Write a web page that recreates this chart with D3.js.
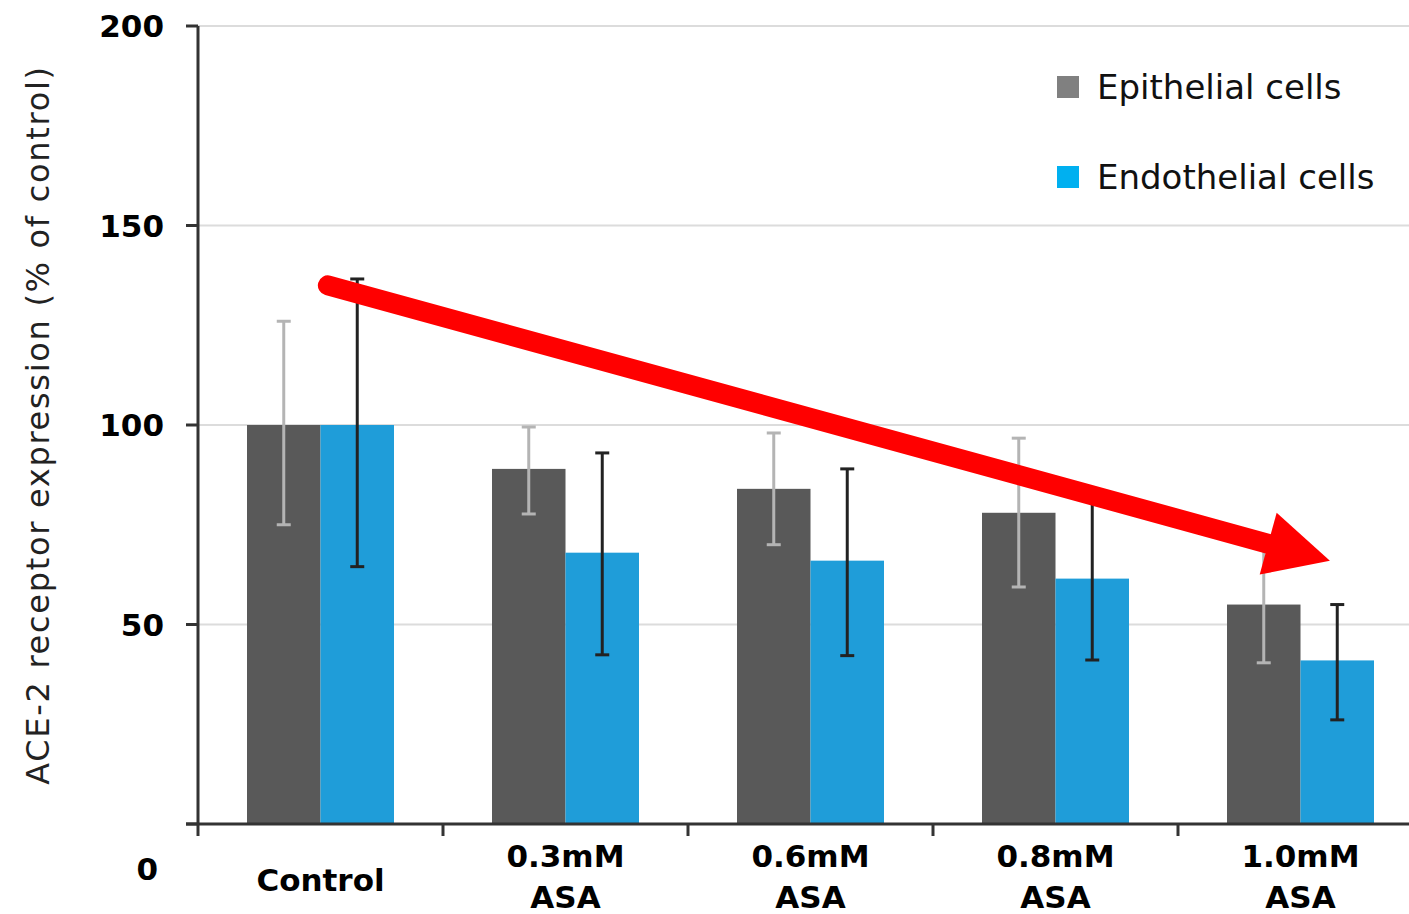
<!DOCTYPE html>
<html><head><meta charset="utf-8">
<script src="https://cdn.jsdelivr.net/npm/d3@7"></script>
<style>body{margin:0;background:#fff}svg{display:block}</style>
</head><body>
<script>
const categories = [["Control"], ["0.3mM","ASA"], ["0.6mM","ASA"], ["0.8mM","ASA"], ["1.0mM","ASA"]];
const seriesNames = ["Epithelial cells", "Endothelial cells"];
const epithelial = [100, 89, 84, 78, 55];
const endothelial = [100, 68, 66, 61.5, 41];
const epiErrHigh = [126, 99.5, 98, 96.7, 70];
const epiErrLow = [75, 77.7, 70, 59.4, 40.4];
const endoErrHigh = [136.6, 93, 89, 81.5, 55];
const endoErrLow = [64.5, 42.4, 42.2, 41.1, 26.1];
const yTicks = [50, 100, 150, 200];
const arrowFrom = [0.03, 135];   // [category position, value]
const arrowTo = [4.12, 66];

const W = 1409, H = 914;
const svg = d3.select("body").append("svg").attr("width", W).attr("height", H);
const F = "'DejaVu Sans', sans-serif";

const y = d3.scaleLinear().domain([0, 200]).range([824, 26]);
const catKeys = categories.map(c => c.join(" "));
const x0 = d3.scaleBand().domain(catKeys).range([198, 198 + 245 * 5]).paddingInner(0.4).paddingOuter(0.2);
const x1 = d3.scaleBand().domain(seriesNames).range([0, x0.bandwidth()]);
const colors = {"Epithelial cells": "#595959", "Endothelial cells": "#1f9dd9"};
const legendColors = {"Epithelial cells": "#808080", "Endothelial cells": "#00b0f0"};
const errColors = {"Epithelial cells": "#b4b4b4", "Endothelial cells": "#222"};

// grid
svg.append("g").selectAll("line").data(yTicks).join("line")
  .attr("x1", 198).attr("x2", W).attr("y1", d => y(d)).attr("y2", d => y(d))
  .attr("stroke", "#dcdcdc").attr("stroke-width", 2);

const data = seriesNames.map((s, si) => ({
  name: s,
  vals: si === 0 ? epithelial : endothelial,
  hi: si === 0 ? epiErrHigh : endoErrHigh,
  lo: si === 0 ? epiErrLow : endoErrLow
}));

// bars
data.forEach(s => {
  svg.append("g").selectAll("rect").data(s.vals).join("rect")
    .attr("x", (d, i) => x0(catKeys[i]) + x1(s.name))
    .attr("width", x1.bandwidth())
    .attr("y", d => y(d))
    .attr("height", d => y(0) - y(d))
    .attr("fill", colors[s.name]);
});

// axes
svg.append("line").attr("x1", 198).attr("x2", 198).attr("y1", y(200)).attr("y2", y(0)).attr("stroke", "#333").attr("stroke-width", 3);
svg.append("line").attr("x1", 186).attr("x2", W).attr("y1", y(0)).attr("y2", y(0)).attr("stroke", "#333").attr("stroke-width", 3);
svg.append("g").selectAll("line").data([0].concat(yTicks)).join("line")
  .attr("x1", 186).attr("x2", 198).attr("y1", d => y(d)).attr("y2", d => y(d))
  .attr("stroke", "#333").attr("stroke-width", 3);
svg.append("g").selectAll("line").data(d3.range(5)).join("line")
  .attr("x1", i => 198 + i * x0.step()).attr("x2", i => 198 + i * x0.step())
  .attr("y1", y(0)).attr("y2", y(0) + 12)
  .attr("stroke", "#333").attr("stroke-width", 3);

// y tick labels
svg.append("g").selectAll("text").data(yTicks).join("text")
  .attr("x", 164).attr("y", d => y(d) + 11).attr("text-anchor", "end")
  .attr("font-family", F).attr("font-weight", "bold").attr("font-size", 31)
  .attr("fill", "#000").text(d => d);
svg.append("text").attr("x", 158).attr("y", 880).attr("text-anchor", "end")
  .attr("font-family", F).attr("font-weight", "bold").attr("font-size", 31).text("0");

// x labels
categories.forEach((c, i) => {
  const cx = x0(catKeys[i]) + x0.bandwidth() / 2;
  const t = svg.append("text").attr("text-anchor", "middle")
    .attr("font-family", F).attr("font-weight", "bold").attr("font-size", 31).attr("fill", "#000");
  if (c.length === 1) {
    t.append("tspan").attr("x", cx).attr("y", 891).text(c[0]);
  } else {
    t.append("tspan").attr("x", cx).attr("y", 867).text(c[0]);
    t.append("tspan").attr("x", cx).attr("y", 908).text(c[1]);
  }
});

// error bars
data.forEach(s => {
  const g = svg.append("g").attr("stroke", errColors[s.name]).attr("stroke-width", 3);
  s.vals.forEach((v, i) => {
    const cx = x0(catKeys[i]) + x1(s.name) + x1.bandwidth() / 2;
    g.append("line").attr("x1", cx).attr("x2", cx).attr("y1", y(s.hi[i])).attr("y2", y(s.lo[i]));
    g.append("line").attr("x1", cx - 7).attr("x2", cx + 7).attr("y1", y(s.hi[i])).attr("y2", y(s.hi[i]));
    g.append("line").attr("x1", cx - 7).attr("x2", cx + 7).attr("y1", y(s.lo[i])).attr("y2", y(s.lo[i]));
  });
});

// y axis title
svg.append("text").attr("transform", `translate(49,${425}) rotate(-90)`)
  .attr("text-anchor", "middle").attr("font-family", F).attr("font-size", 32)
  .attr("letter-spacing", 1.7).attr("fill", "#222")
  .text("ACE-2 receptor expression (% of control)");

// legend
seriesNames.forEach((s, i) => {
  const ly = 87 + i * 90;
  svg.append("rect").attr("x", 1057).attr("y", ly - 11).attr("width", 22).attr("height", 22).attr("fill", legendColors[s]);
  svg.append("text").attr("x", 1097).attr("y", ly + 12).attr("font-family", F).attr("font-size", 34).attr("fill", "#111").text(s);
});

// red arrow
const catCenter = i => 198 + (i + 0.5) * x0.step();
const ax1 = catCenter(arrowFrom[0]), ay1 = y(arrowFrom[1]);
const ax2 = catCenter(arrowTo[0]), ay2 = y(arrowTo[1]);
const ang = Math.atan2(ay2 - ay1, ax2 - ax1);
const headLen = 64, headHalf = 32;
const bx = ax2 - headLen * Math.cos(ang), by = ay2 - headLen * Math.sin(ang);
svg.append("line").attr("x1", ax1).attr("y1", ay1).attr("x2", bx + 2 * Math.cos(ang)).attr("y2", by + 2 * Math.sin(ang))
  .attr("stroke", "#ff0000").attr("stroke-width", 20).attr("stroke-linecap", "round");
const px = -Math.sin(ang), py = Math.cos(ang);
svg.append("path").attr("d", `M${ax2},${ay2}L${bx + px * headHalf},${by + py * headHalf}L${bx - px * headHalf},${by - py * headHalf}Z`)
  .attr("fill", "#ff0000");
</script>
</body></html>
